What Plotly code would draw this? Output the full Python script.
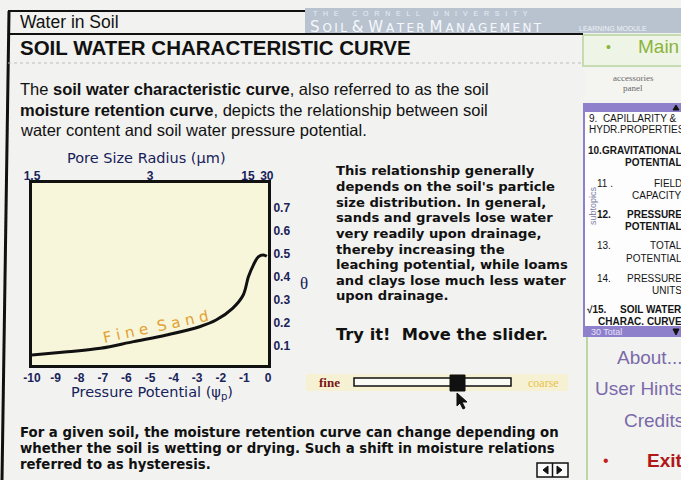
import plotly.graph_objects as go

W, H = 681, 480

# ---- data ----
psi = [-10.0, -8.5, -7.1, -5.7, -4.3, -2.9, -2.2, -1.5, -1.05, -0.83, -0.62, -0.41, -0.2, -0.05]
theta = [0.061, 0.075, 0.090, 0.119, 0.148, 0.184, 0.213, 0.264, 0.322, 0.401, 0.452, 0.488, 0.496, 0.490]
x_ticks = [-10, -9, -8, -7, -6, -5, -4, -3, -2, -1, 0]
x_ticklabels = ["-10", "-9", "-8", "-7", "-6", "-5", "-4", "-3", "-2", "-1", "0"]
pore_tickpos = [-10, -5, -0.85, -0.05]
pore_ticklabels = ["1.5", "3", "15", "30"]
theta_ticks = [0.1, 0.2, 0.3, 0.4, 0.5, 0.6, 0.7]
theta_ticklabels = ["0.1", "0.2", "0.3", "0.4", "0.5", "0.6", "0.7"]


def X(p):
    return p / W


def Y(p):
    return 1 - p / H


SANS = "Liberation Sans, Arial, sans-serif"
WIDE = "DejaVu Sans, Verdana, sans-serif"
SERIF = "Liberation Serif, DejaVu Serif, serif"
NAVY = "#18225a"
THIN = "\u2009"

fig = go.Figure()
fig.add_trace(go.Scatter(x=psi, y=theta, mode="lines", line=dict(color="#111111", width=3, shape="spline"),
                         hoverinfo="skip", showlegend=False))
fig.add_trace(go.Scatter(x=[psi[0]], y=[theta[0]], xaxis="x2", mode="markers", marker=dict(opacity=0),
                         hoverinfo="skip", showlegend=False))

tickfont = dict(family=SANS, size=12, color=NAVY)


def bold(lst):
    return ["<b>" + s + "</b>" for s in lst]


fig.update_layout(
    width=W, height=H, margin=dict(l=0, r=0, t=0, b=0, pad=0), autosize=False,
    paper_bgcolor="#f2f2f0", plot_bgcolor="#f7f5da", showlegend=False,
    xaxis=dict(domain=[X(32), X(268)], range=[-10, 0], tickvals=x_ticks, ticktext=bold(x_ticklabels),
               showgrid=False, zeroline=False, showline=True, linecolor="#111", linewidth=3, mirror=True,
               ticks="", tickfont=tickfont, anchor="y", automargin=False, fixedrange=True),
    xaxis2=dict(overlaying="x", side="top", range=[-10, 0], tickvals=pore_tickpos, ticktext=bold(pore_ticklabels),
                showgrid=False, zeroline=False, showline=False, ticks="", tickfont=tickfont, anchor="y",
                automargin=False, fixedrange=True),
    yaxis=dict(domain=[Y(365), Y(183)], range=[0.0174, 0.809], side="right", tickvals=theta_ticks,
               ticktext=bold(theta_ticklabels), showgrid=False, zeroline=False, showline=True, linecolor="#111",
               linewidth=3, mirror=True, ticks="", tickfont=tickfont, automargin=False, fixedrange=True),
)

shapes = []
ann = []


def rect(x0, y0, x1, y1, fill=None, line=None, lw=1, layer="below"):
    shapes.append(dict(type="rect", xref="paper", yref="paper", x0=X(x0), x1=X(x1), y0=Y(y1), y1=Y(y0),
                       fillcolor=fill if fill else "rgba(0,0,0,0)",
                       line=dict(color=line if line else "rgba(0,0,0,0)", width=lw if line else 0), layer=layer))


def line(x0, y0, x1, y1, color, lw=1, dash="solid"):
    shapes.append(dict(type="line", xref="paper", yref="paper", x0=X(x0), x1=X(x1), y0=Y(y0), y1=Y(y1),
                       line=dict(color=color, width=lw, dash=dash), layer="above"))


def path(d_pts, fill, color, lw=1):
    d = "M " + " L ".join(f"{X(a):.5f},{Y(b):.5f}" for a, b in d_pts) + " Z"
    shapes.append(dict(type="path", xref="paper", yref="paper", path=d, fillcolor=fill,
                       line=dict(color=color, width=lw), layer="above"))


def txt(x, y, s, size, color="#111", family=SANS, xa="left", angle=0, ya="middle"):
    ann.append(dict(x=X(x), y=Y(y), xref="paper", yref="paper", text=s, showarrow=False, xanchor=xa,
                    yanchor=ya, textangle=angle, font=dict(size=size, color=color, family=family), borderpad=0))


def spaced(s):
    return THIN.join(list(s))


# ---- page frame ----
line(9, 11, 2, 480, "#111", 3)
line(8, 11, 305, 11, "#111", 2)
line(8, 34, 583, 34, "#111", 2)
line(8, 63, 583, 63, "#bdbdb8", 1, "dot")

# banner
rect(305, 8, 681, 33, fill="#b9c3d0")
txt(312, 13.5, "T   H   E       C   O   R   N   E   L   L       U   N   I   V   E   R   S   I   T   Y", 7,
    "#e8edf4", SANS)
txt(309, 27, spaced("S") + THIN + "<span style='font-size:12px'>" + spaced("OIL") + "</span> &amp; "
    + spaced("W") + THIN + "<span style='font-size:12px'>" + spaced("ATER") + "</span> "
    + spaced("M") + THIN + "<span style='font-size:12px'>" + spaced("ANAGEMENT") + "</span>",
    15, "#f6f8fb", WIDE)
txt(578, 28, "LEARNING MODULE", 7, "#eef2f7", SANS)

# titles
txt(19, 22, "Water in Soil", 17.5, "#111", SANS)
txt(19, 48, "<b>SOIL WATER CHARACTERISTIC CURVE</b>", 20.5, "#111", SANS)

# intro paragraph
txt(19, 89, "The <b>soil water characteristic curve</b>, also referred to as the soil", 16.5)
txt(19, 110, "<b>moisture retention curve</b>, depicts the relationship between soil", 16.5)
txt(19, 130, "water content and soil water pressure potential.", 16.5)

# chart labels
txt(146, 158, "Pore Size Radius (µm)", 14.5, NAVY, WIDE, xa="center")
txt(152, 393, "Pressure Potential (ψ<sub>p</sub>)", 14.5, NAVY, WIDE, xa="center")
txt(304, 283, "θ", 17, NAVY, SERIF, xa="center")
txt(155, 327, "F i n e  S a n d", 15, "#e2a232", WIDE, xa="center", angle=-12)

# right column text
col = ["This relationship generally", "depends on the soil's particle", "size distribution. In general,",
       "sands and gravels lose water", "very readily upon drainage,", "thereby increasing the",
       "leaching potential, while loams", "and clays lose much less water", "upon drainage."]
for i, s in enumerate(col):
    txt(335, 171 + i * 15.6, "<b>" + s + "</b>", 13.15, "#111", WIDE)
txt(335, 334, "<b>Try it!  Move the slider.</b>", 16.3, "#111", WIDE)

# slider
rect(306, 374, 568, 391, fill="#f6f1d2")
txt(318, 382, "<b>fine</b>", 13, "#7a1414", SERIF)
rect(354, 378, 511, 386, fill="#fbfbf6", line="#111", lw=1.5, layer="above")
rect(450, 375, 465, 391, fill="#111", line="#111", lw=1, layer="above")
txt(527, 383, "coarse", 12, "#e8c24a", SERIF)
path([(457, 393), (457, 406), (460, 403), (463, 409), (465, 408), (462, 402), (467, 402)], "#111", "#111", 1)

# bottom paragraph
bot = ["For a given soil, the moisture retention curve can change depending on",
       "whether the soil is wetting or drying. Such a shift in moisture relations",
       "referred to as hysteresis."]
for i, s in enumerate(bot):
    txt(19, 432 + i * 16, "<b>" + s + "</b>", 13.3, "#111", WIDE)

# nav buttons
rect(537, 463, 568, 477, fill="#fafafa", line="#111", lw=1.5, layer="above")
line(552.5, 463, 552.5, 477, "#111", 1.5)
path([(548, 466), (548, 474), (543, 470)], "#111", "#111", 1)
path([(557, 466), (557, 474), (562, 470)], "#111", "#111", 1)

# ---- sidebar ----
rect(583, 35, 690, 66, fill="#eef5e6", line="#c4dcb0", lw=2)
txt(608, 47, "•", 14, "#8cb43c", SANS, xa="center")
txt(637, 47, "Main", 19, "#8cb43c", SANS)
rect(585, 68, 690, 100, fill="#f4f4f0")
txt(633, 78, "accessories", 9, "#6a6a6a", SERIF, xa="center")
txt(633, 88, "panel", 9, "#6a6a6a", SERIF, xa="center")
rect(583, 103, 690, 112, fill="#8f80cc")
path([(673, 110), (679, 110), (676, 105)], "#111", "#111", 1)
rect(583, 112, 690, 326, fill="#fdfdfd")
line(584, 103, 584, 336, "#8f80cc", 2)
rect(583, 326, 690, 337, fill="#8f80cc")
txt(590, 331.5, "30 Total", 9, "#e6e0fa", SANS)
path([(673, 329), (679, 329), (676, 335)], "#111", "#111", 1)
line(587, 337, 587, 480, "#b9d8a4", 2)
txt(593, 206, "subtopics", 9, "#8080a8", SANS, xa="center", angle=-90)

items = [
    (588, 118, "9.  CAPILLARITY &amp;", "left", False),
    (588, 130, "HYDR.PROPERTIES", "left", False),
    (587, 150, "10.GRAVITATIONAL", "left", True),
    (683, 162, "POTENTIAL", "right", True),
    (596, 183, "11 .", "left", False),
    (683, 183, "FIELD", "right", False),
    (683, 195, "CAPACITY", "right", False),
    (596, 214, "12.", "left", True),
    (683, 214, "PRESSURE", "right", True),
    (683, 226, "POTENTIAL", "right", True),
    (596, 246, "13.", "left", False),
    (683, 246, "TOTAL", "right", False),
    (683, 258, "POTENTIAL", "right", False),
    (596, 278, "14.", "left", False),
    (683, 278, "PRESSURE", "right", False),
    (683, 290, "UNITS", "right", False),
    (586, 309, "√15.", "left", True),
    (683, 309, "SOIL WATER", "right", True),
    (683, 321, "CHARAC. CURVE", "right", True),
]
for x, y, s, xa, b in items:
    txt(x, y, ("<b>" + s + "</b>") if b else s, 10, "#151515", SANS, xa=xa)

txt(684, 357, "About...", 19, "#7a6aaa", SANS, xa="right")
txt(685, 388, "User Hints", 19, "#7a6aaa", SANS, xa="right")
txt(685, 420, "Credits", 19, "#7a6aaa", SANS, xa="right")
txt(606, 460, "•", 16, "#c42020", SANS, xa="center")
txt(684, 460, "<b>Exit</b>", 19, "#b01818", SANS, xa="right")

fig.update_layout(shapes=shapes, annotations=ann, hovermode=False, dragmode=False)
fig.write_html("out.html", config={"displayModeBar": False, "staticPlot": True},
               post_script="document.body.style.margin='0';document.body.style.overflow='hidden';")
